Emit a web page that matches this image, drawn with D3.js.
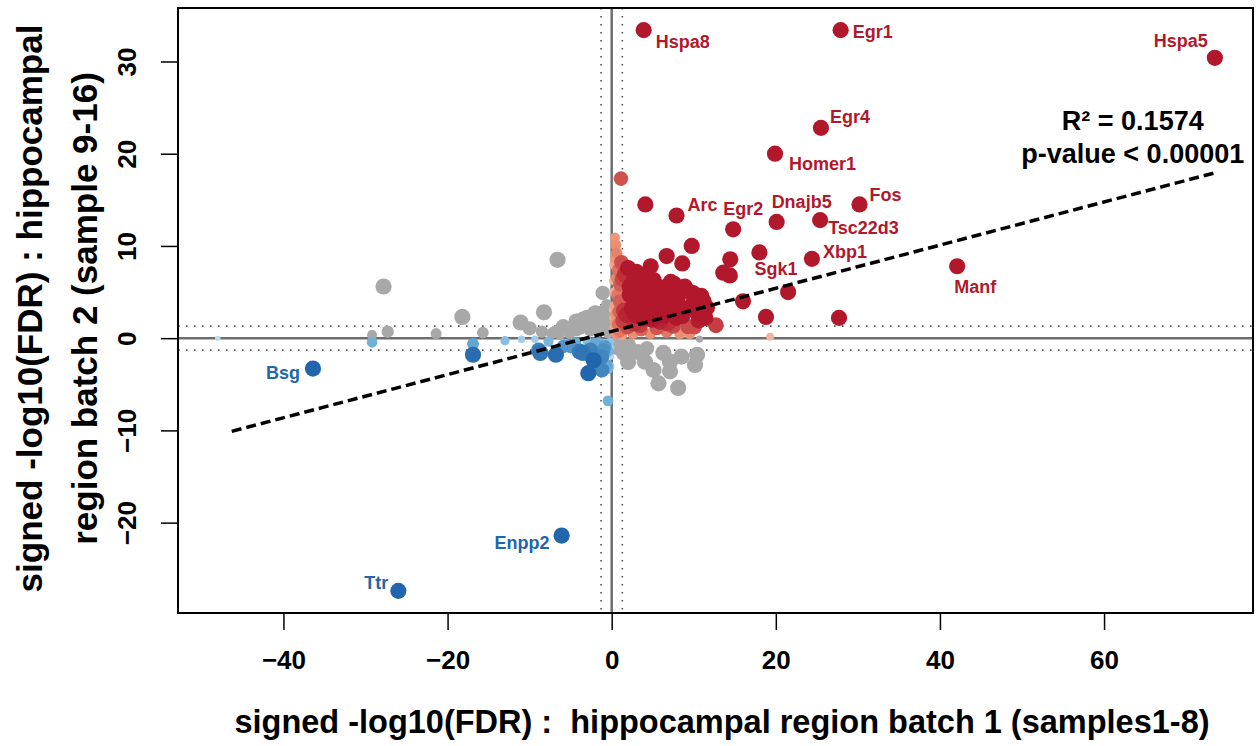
<!DOCTYPE html>
<html>
<head>
<meta charset="utf-8">
<script src="https://cdn.jsdelivr.net/npm/d3@7"></script>
<style>
    body { margin: 0; background: #fff; }
    text { font-family: "Liberation Sans", Arial, sans-serif; font-weight: bold; white-space: pre; }
</style>
</head>
<body>
<svg id="chart" width="1258" height="746"></svg>
<script>
(function drawSignedFdrScatter() {
    'use strict';

    /* data: signed -log10(FDR), [batch1, batch2] */

    // both batches up
    var upGenes = [
        [1.13, 17.3], [4.1, 14.5], [9.75, 10.0], [6.7, 8.9], [8.6, 8.1], [4.75, 7.8], [14.45, 8.55],
        [18.0, 9.3], [13.6, 7.1], [14.4, 6.8], [16.0, 4.0], [18.8, 2.3], [27.7, 2.2], [12.7, 1.4],
        [10.6, 1.9], [10.9, 4.6], [9.9, 4.9], [7.2, 6.1], [2.0, 7.6], [0.2, 7.9], [0.4, 10.9],
        [0.5, 10.1], [0.6, 9.2], [0.8, 7.4], [5.1, 6.3], [7.6, 5.9], [7.9, 5.4], [9.5, 5.0],
        [11.2, 4.0], [6.7, 4.7], [3.45, 5.0], [2.6, 6.1], [4.3, 4.0], [8.7, 3.2], [10.4, 2.7],
        [7.9, 2.2], [9.3, 1.25], [9.5, 0.5], [8.3, 0.5], [6.7, 0.7], [4.7, 0.5], [2.6, 0.5],
        [1.0, 0.7], [5.9, 1.8], [3.85, 2.15], [1.8, 2.5], [1.0, 4.0], [1.0, 5.8], [2.2, 4.7],
        [5.9, 3.2], [3.45, 3.2], [7.1, 3.2], [2.45, 3.25], [0.2, 5.0], [0.2, 2.2], [0.25, 1.2],
        [0.3, 3.5], [1.6, 6.9], [3.0, 7.2], [5.1, 3.6], [3.45, 1.4], [5.5, 1.1], [0.5, 0.5],
        [0.8, 1.5], [1.3, 0.3], [0.3, 0.8], [19.3, 0.15], [1.5, 3.0], [2.8, 1.6], [4.2, 2.8],
        [6.3, 2.4], [8.0, 4.2], [9.8, 3.6], [6.0, 5.5], [4.0, 6.4], [2.2, 5.6], [1.4, 1.9],
        [7.5, 1.3], [11.6, 3.3], [3.6, 0.9], [0.6, 6.5], [0.4, 8.6], [1.2, 8.2], [0.15, 6.2],
        [0.1, 3.1], [0.9, 2.9], [3.0, 4.3], [4.6, 5.4], [6.2, 3.9], [7.4, 4.8], [8.9, 5.6],
        [5.3, 4.6], [2.9, 2.5], [4.9, 2.0], [6.8, 1.6], [8.6, 2.4], [10.1, 1.2], [11.4, 2.2],
        [1.9, 1.2], [3.9, 5.9], [0.7, 4.7], [1.3, 6.4], [0.45, 2.6], [0.35, 1.7]
    ];

    // both batches down
    var downGenes = [
        [-48.0, -0.02], [-29.2, -0.45], [-16.9, -0.63], [-16.9, -1.8], [-13.0, -0.27], [-11.0, -0.12],
        [-9.35, -0.12], [-8.7, -1.6], [-6.8, -1.8], [-5.0, -0.9], [-3.5, -1.6], [-2.85, -3.8],
        [-1.2, -3.45], [-2.2, -2.4], [-0.45, -6.8], [-7.7, -0.38], [-5.1, -0.74], [-3.9, -1.45],
        [-2.6, -1.3], [-1.2, -2.0], [-0.8, -0.9], [-0.2, -0.4], [-0.6, -2.9], [-5.9, -0.9],
        [-8.9, -1.3], [-0.05, -2.0], [-0.1, -3.0], [-1.6, -0.5], [-0.4, -1.4], [-2.0, -0.6],
        [-3.0, -0.3], [-1.0, -1.3], [-4.4, -0.5], [-0.15, -1.0], [-0.4, -3.3]
    ];

    // opposite signs in the two batches
    var discordantGenes = [
        [-27.8, 5.6], [-29.2, 0.35], [-27.3, 0.7], [-21.4, 0.5], [-18.2, 2.3], [-15.7, 0.6],
        [-11.1, 1.7], [-10.0, 1.07], [-8.5, 0.7], [-7.3, 0.53], [-8.25, 2.8], [-6.6, 8.5],
        [-5.9, 1.25], [-4.3, 1.8], [-3.5, 2.0], [-1.8, 2.3], [-1.0, 2.9], [-1.1, 4.9],
        [-0.6, 3.6], [-2.6, 0.9], [-5.1, 0.5], [-1.05, 1.25], [-0.45, 0.55], [-6.3, 0.35],
        [-3.0, 2.2], [-2.0, 2.7], [-6.9, 0.7], [-4.3, 0.9], [-0.6, 1.6], [-1.6, 1.25],
        [-0.3, 2.4], [-2.2, 1.6], [-3.8, 1.2], [-0.2, 0.9],
        [1.0, -0.9], [2.2, -0.7], [2.0, -2.6], [4.3, -1.1], [4.05, -2.55], [5.1, -3.45],
        [5.7, -4.9], [7.1, -2.55], [7.1, -3.6], [8.1, -5.4], [8.5, -2.0], [10.4, -1.8],
        [10.15, -2.9], [6.3, -1.6], [10.7, -0.1], [3.2, -1.5], [0.5, -0.5], [1.5, -1.6],
        [0.6, -1.2], [1.2, -0.4]
    ];

    // named genes
    var labelGenes = ['Hspa8', 'Egr1', 'Hspa5', 'Egr4', 'Homer1', 'Fos', 'Tsc22d3', 'Dnajb5',
        'Egr2', 'Arc', 'Sgk1', 'Xbp1', 'Manf', 'Bsg', 'Enpp2', 'Ttr'];
    var labelBatch1 = [3.9, 27.9, 73.5, 25.5, 19.9, 30.2, 25.4, 20.1, 14.8, 7.9, 21.5, 24.4, 42.1, -36.4, -6.1, -26.0];
    var labelBatch2 = [33.4, 33.4, 30.4, 22.8, 20.0, 14.5, 12.8, 12.6, 11.8, 13.3, 5.0, 8.6, 7.8, -3.3, -21.4, -27.4];

    var xTicks = [-40, -20, 0, 20, 40, 60];
    var yTicks = [-20, -10, 0, 10, 20, 30];
    var fdrCut = -Math.log10(0.05);

    // lm fit shown on the chart
    var fitIntercept = 0.73;
    var fitSlope = 0.234;
    var fitRange = [-46.3, 73.9];
    var statsText = ['R\u00B2 = 0.1574', 'p-value < 0.00001'];

    /* layout */

    var svg = d3.select('#chart');
    var box = { left: 178, right: 1253, top: 8, bottom: 613 };

    var x = d3.scaleLinear().domain([-52.85, 78.15]).range([box.left, box.right]);
    var y = d3.scaleLinear().domain([-29.8, 35.8]).range([box.bottom, box.top]);

    var red = '#B2182B', blue = '#2166AC', grey = '#A8A8A8';
    var redScale = d3.scaleLinear().domain([0, 0.5, 1]).range(['#FCE0D2', '#EB8E72', red]);
    var blueScale = d3.scaleLinear().domain([0, 0.5, 1]).range(['#D6E8F3', '#6BAED6', blue]);

    // weaker of the two signals drives size and shade
    function weaker(d) { return Math.min(Math.abs(d.b1), Math.abs(d.b2)); }
    function strength(d) { return Math.min(1, Math.sqrt(weaker(d) / 1.5)); }
    function shade(d) { return Math.min(1, Math.sqrt(weaker(d) / 2)); }
    function fill(d) {
        if (d.b1 * d.b2 < 0) return grey;
        return d.b1 > 0 ? redScale(shade(d)) : blueScale(shade(d));
    }
    function radius(d) { return 2 + 6.1 * strength(d); }

    function toRows(list) {
        return list.map(function (p) { return { b1: p[0], b2: p[1] }; });
    }

    var labelled = labelGenes.map(function (g, i) {
        return { gene: g, b1: labelBatch1[i], b2: labelBatch2[i] };
    });
    var greyRows = toRows(discordantGenes);
    var colourRows = toRows(upGenes).concat(toRows(downGenes)).concat(labelled)
        .sort(function (a, b) { return shade(a) - shade(b); });

    // text placement: [dx, dy, anchor]
    var labelPlace = {
        Hspa8: [12, 18, 'start'], Egr1: [12, 8, 'start'], Hspa5: [-34, -11, 'middle'],
        Egr4: [9, -5, 'start'], Homer1: [14, 16, 'start'], Fos: [10, -3, 'start'],
        Tsc22d3: [8, 14, 'start'], Dnajb5: [25, -14, 'middle'], Egr2: [10, -14, 'middle'],
        Arc: [11, -5, 'start'], Sgk1: [-12, -17, 'middle'], Xbp1: [11, -1, 'start'],
        Manf: [18, 27, 'middle'], Bsg: [-13, 10, 'end'], Enpp2: [-12, 13, 'end'],
        Ttr: [-10, -2, 'end']
    };

    /* clip + reference lines */

    svg.append('clipPath').attr('id', 'plot-clip')
        .append('rect')
        .attr('x', box.left).attr('y', box.top)
        .attr('width', box.right - box.left).attr('height', box.bottom - box.top);

    var plot = svg.append('g').attr('clip-path', 'url(#plot-clip)');

    [-fdrCut, fdrCut].forEach(function (c) {
        plot.append('line')
            .attr('x1', x(c)).attr('x2', x(c)).attr('y1', box.top).attr('y2', box.bottom)
            .attr('stroke', '#555').attr('stroke-width', 1.6).attr('stroke-dasharray', '1.6,6.4');
        plot.append('line')
            .attr('x1', box.left).attr('x2', box.right).attr('y1', y(c)).attr('y2', y(c))
            .attr('stroke', '#555').attr('stroke-width', 1.6).attr('stroke-dasharray', '1.6,6.4');
    });

    plot.append('line')
        .attr('x1', x(0)).attr('x2', x(0)).attr('y1', box.top).attr('y2', box.bottom)
        .attr('stroke', '#6e6e6e').attr('stroke-width', 2.5);
    plot.append('line')
        .attr('x1', box.left).attr('x2', box.right).attr('y1', y(0)).attr('y2', y(0))
        .attr('stroke', '#6e6e6e').attr('stroke-width', 2.5);

    /* points */

    plot.append('g').selectAll('circle')
        .data(greyRows)
        .enter()
        .append('circle')
        .attr('cx', function (d) { return x(d.b1); })
        .attr('cy', function (d) { return y(d.b2); })
        .attr('r', radius)
        .attr('fill', grey);

    plot.append('g').selectAll('circle')
        .data(colourRows)
        .enter()
        .append('circle')
        .attr('cx', function (d) { return x(d.b1); })
        .attr('cy', function (d) { return y(d.b2); })
        .attr('r', radius)
        .attr('fill', fill);

    /* regression line */

    plot.append('line')
        .attr('x1', x(fitRange[0])).attr('y1', y(fitIntercept + fitSlope * fitRange[0]))
        .attr('x2', x(fitRange[1])).attr('y2', y(fitIntercept + fitSlope * fitRange[1]))
        .attr('stroke', '#000').attr('stroke-width', 3.5).attr('stroke-dasharray', '10,5');

    /* gene labels */

    svg.append('g').selectAll('text')
        .data(labelled)
        .enter()
        .append('text')
        .attr('x', function (d) { return x(d.b1) + labelPlace[d.gene][0]; })
        .attr('y', function (d) { return y(d.b2) + labelPlace[d.gene][1]; })
        .attr('text-anchor', function (d) { return labelPlace[d.gene][2]; })
        .attr('font-size', 18)
        .attr('fill', function (d) { return d.b1 > 0 ? red : blue; })
        .text(function (d) { return d.gene; });

    /* stats */

    statsText.forEach(function (t, i) {
        svg.append('text')
            .attr('x', x(63.5)).attr('y', y(22.6) + i * 33)
            .attr('text-anchor', 'middle')
            .attr('font-size', 27)
            .attr('fill', '#000')
            .text(t);
    });

    /* axes */

    var xAxis = svg.append('g')
        .attr('transform', 'translate(0,' + box.bottom + ')')
        .call(d3.axisBottom(x).tickValues(xTicks).tickSize(17).tickFormat(d3.format('d')));
    xAxis.select('.domain').remove();
    xAxis.selectAll('line').attr('stroke', '#000').attr('stroke-width', 1.5);
    xAxis.selectAll('text')
        .attr('y', 56).attr('dy', null)
        .attr('font-size', 26).attr('fill', '#000')
        .style('font-family', '"Liberation Sans", Arial, sans-serif').style('font-weight', 'bold');

    var yAxis = svg.append('g')
        .attr('transform', 'translate(' + box.left + ',0)')
        .call(d3.axisLeft(y).tickValues(yTicks).tickSize(17).tickFormat(d3.format('d')));
    yAxis.select('.domain').remove();
    yAxis.selectAll('line').attr('stroke', '#000').attr('stroke-width', 1.5);
    yAxis.selectAll('text')
        .attr('transform', 'rotate(-90)')
        .attr('x', 0).attr('y', -42).attr('dy', null)
        .attr('text-anchor', 'middle')
        .attr('font-size', 26).attr('fill', '#000')
        .style('font-family', '"Liberation Sans", Arial, sans-serif').style('font-weight', 'bold');

    // frame
    svg.append('rect')
        .attr('x', box.left).attr('y', box.top)
        .attr('width', box.right - box.left).attr('height', box.bottom - box.top)
        .attr('fill', 'none').attr('stroke', '#000').attr('stroke-width', 2);

    /* axis titles */

    svg.append('text')
        .attr('x', 722).attr('y', 733)
        .attr('text-anchor', 'middle')
        .attr('font-size', 32.5)
        .text('signed -log10(FDR) :  hippocampal region batch 1 (samples1-8)');

    var midY = (box.top + box.bottom) / 2;
    [['signed -log10(FDR) : hippocampal', 42], ['region batch 2 (sample 9-16)', 97]].forEach(function (l) {
        svg.append('text')
            .attr('transform', 'translate(' + l[1] + ',' + (midY - 2) + ') rotate(-90)')
            .attr('text-anchor', 'middle')
            .attr('font-size', 35)
            .text(l[0]);
    });
})();
</script>
</body>
</html>
